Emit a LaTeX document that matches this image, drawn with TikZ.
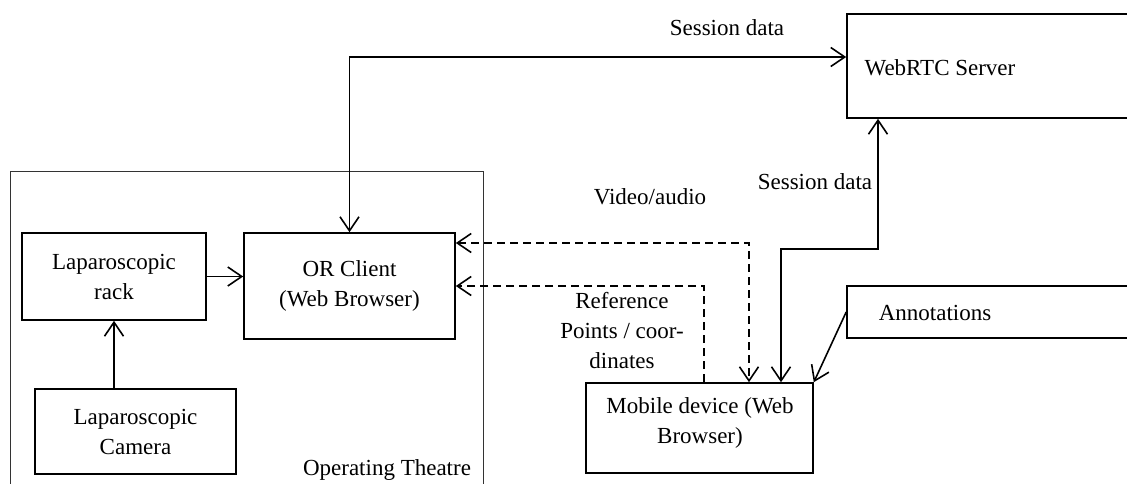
\documentclass[tikz,border=0pt]{standalone}
\usepackage{fontspec}
\setmainfont{Liberation Serif}
\usetikzlibrary{arrows.meta}
\begin{document}
\begin{tikzpicture}[x=1pt,y=-1pt,
  every node/.style={font=\fontsize{23}{30}\selectfont},
  box/.style={draw,line width=1.6pt,rectangle,inner sep=0pt},
  lbl/.style={align=center,inner sep=0pt},
  conn/.style={line width=1.6pt},
  tip/.tip={Straight Barb[length=14pt,width=19pt,line width=1.6pt]},
  dsh/.style={conn,dash pattern=on 8pt off 5pt},
]
\useasboundingbox (0,0) rectangle (1127,483);
\clip (0,0) rectangle (1127,483);
% operating theatre frame
\draw[line width=0.9pt,black!80] (10,490) -- (10,171) -- (483,171) -- (483,490);
\node[lbl] (otl) at (387,470) {Operating Theatre};
% boxes
\node[box,minimum width=184pt,minimum height=87pt,align=center] (rack) at (114,276.5) {Laparoscopic\\rack};
\node[box,minimum width=211pt,minimum height=106pt,align=center] (or) at (349.5,286) {OR Client\\(Web Browser)};
\node[box,minimum width=201pt,minimum height=85pt,align=center] (cam) at (135.5,431.5) {Laparoscopic\\Camera};
\node[box,minimum width=288pt,minimum height=104pt] (srv) at (991,66) {};
\node[lbl] (srvt) at (940,68) {WebRTC Server};
\node[box,minimum width=288pt,minimum height=52pt] (ann) at (991,312) {};
\node[lbl] (annt) at (935,313) {Annotations};
\node[box,minimum width=227pt,minimum height=90pt] (mob) at (699.5,428) {};
\node[lbl] (mobt) at (700,423) {Mobile device (Web\\Browser)};
% labels
\node[lbl] (sd1) at (727,28) {Session data};
\node[lbl] (sd2) at (815,182) {Session data};
\node[lbl] (va) at (650,197) {Video/audio};
\node[lbl] (rp) at (622,331) {Reference\\Points / coor-\\dinates};
% connectors
\coordinate (srvin) at ([yshift=9pt]srv.west);
\draw[conn,tip-tip] (or.north) -- (or.north |- srvin) -- (srvin);
\draw[conn,-tip] (rack.east) -- (rack.east -| or.west);
\draw[conn,-tip] (rack.south |- cam.north) -- (rack.south);
\draw[conn,tip-tip] ([xshift=81.5pt]mob.north) -- ++(0,-133) -| ([xshift=-113pt]srv.south);
\draw[dsh,tip-tip] ([yshift=43pt]or.east) -| ([xshift=49.5pt]mob.north);
\draw[dsh,-tip] ([xshift=4.5pt]mob.north) |- (or.east);
\draw[conn,-tip] (ann.west) -- (mob.north east);
\end{tikzpicture}
\end{document}
